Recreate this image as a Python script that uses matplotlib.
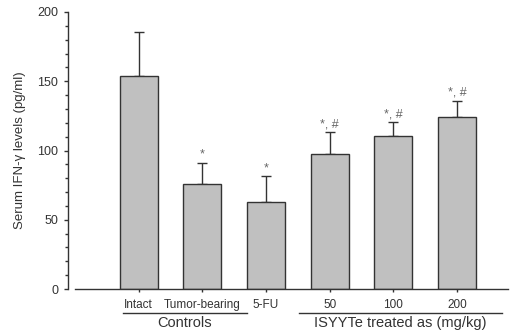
import numpy as np
import matplotlib
matplotlib.use("Agg")
import matplotlib.pyplot as plt

plt.rcParams['font.family'] = ['Liberation Sans', 'DejaVu Sans']

# data
groups = ["Intact", "Tumor-bearing", "5-FU", "50", "100", "200"]
means = [154, 75.5, 63, 97.5, 110.5, 124]
errs = [31.5, 15.5, 18.5, 15.5, 10, 12]
marks = ["", "*", "*", "*, #", "*, #", "*, #"]
ylabel = "Serum IFN-\u03b3 levels (pg/ml)"
group_labels = ["Controls", "ISYYTe treated as (mg/kg)"]
group_spans = [(-0.25, 1.70), (2.52, 5.71)]

ink = "#333333"
fig = plt.figure(figsize=(5.14, 3.31), dpi=100)
ax = fig.add_axes([75/514, 1-289/331, 433/514, 277/331])

x = np.arange(len(groups))
ax.bar(x, means, width=0.6, color="#c0c0c0", edgecolor=ink, linewidth=1.0, zorder=2)
ax.errorbar(x, means, yerr=[np.zeros(len(errs)), errs], fmt="none",
            ecolor=ink, elinewidth=1.0, capsize=3.6, capthick=1.0, zorder=1)

for xi, m, e, lab in zip(x, means, errs, marks):
    if lab:
        ax.annotate(lab, (xi, m + e), xytext=(0, 1.5), textcoords="offset points",
                    ha="center", va="bottom", fontsize=9, color="#666666")

ax.set_xlim(-1.0, 5.8)
ax.set_ylim(0, 200)
ax.set_yticks(np.arange(0, 201, 50))
ax.set_yticks(np.arange(0, 201, 10), minor=True)
ax.set_xticks(x)
ax.set_xticklabels(groups)
ax.set_ylabel(ylabel, fontsize=9.5, color=ink, labelpad=8)

for s in ["top", "right"]:
    ax.spines[s].set_visible(False)
ax.spines["left"].set_position(("outward", 5))
for s in ["left", "bottom"]:
    ax.spines[s].set_color(ink)
    ax.spines[s].set_linewidth(1.0)

ax.tick_params(axis="y", which="major", length=3, width=1, color=ink,
               labelsize=9, labelcolor=ink, pad=4)
ax.tick_params(axis="y", which="minor", length=2.5, width=1, color=ink)
ax.tick_params(axis="x", which="major", length=2.5, width=1, color=ink,
               labelsize=8.5, labelcolor=ink, pad=5)

tr = ax.get_xaxis_transform()
for (x0, x1), lab in zip(group_spans, group_labels):
    ax.plot([x0, x1], [-0.086, -0.086], transform=tr, color=ink,
            linewidth=1.0, clip_on=False)
    ax.text((x0 + x1) / 2, -0.096, lab, transform=tr, ha="center", va="top",
            fontsize=10.5, color=ink)

fig.savefig("out.png", dpi=100)
